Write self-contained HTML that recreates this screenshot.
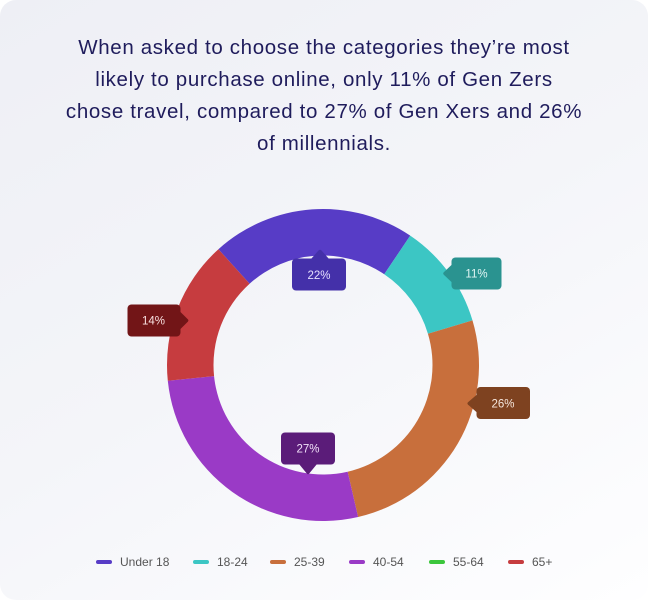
<!DOCTYPE html>
<html><head><meta charset="utf-8"><style>
html,body{margin:0;padding:0;background:#ffffff;}
body{width:648px;height:600px;position:relative;overflow:hidden;font-family:"Liberation Sans",sans-serif;}
.card{position:absolute;left:0;top:0;width:648px;height:600px;border-radius:16px;background:linear-gradient(150deg,#eeeff5 0%,#f4f5f9 50%,#fefeff 100%);}
.t{position:absolute;left:0;width:648px;text-align:center;color:#1f1c5c;font-size:20.5px;letter-spacing:0.65px;line-height:32px;white-space:nowrap;}
.lg{position:absolute;top:555px;font-size:12px;color:#555;line-height:14px;white-space:nowrap;}
.sw{position:absolute;top:560px;width:16px;height:4px;border-radius:2px;}
</style></head><body>
<div class="card"></div>
<div class="t" style="top:32px">When asked to choose the categories they’re most</div>
<div class="t" style="top:64px">likely to purchase online, only 11% of Gen Zers</div>
<div class="t" style="top:96px">chose travel, compared to 27% of Gen Xers and 26%</div>
<div class="t" style="top:128px">of millennials.</div>

<svg width="648" height="600" style="position:absolute;left:0;top:0" xmlns="http://www.w3.org/2000/svg">
<path d="M218.42,249.25 A156,156 0 0 1 410.24,235.68 L384.23,274.22 A109.5,109.5 0 0 0 249.59,283.75 Z" fill="#573cc6"/>
<path d="M410.24,235.68 A156,156 0 0 1 472.49,320.43 L427.93,333.72 A109.5,109.5 0 0 0 384.23,274.22 Z" fill="#3cc6c4"/>
<path d="M472.49,320.43 A156,156 0 0 1 358.10,517.01 L347.64,471.70 A109.5,109.5 0 0 0 427.93,333.72 Z" fill="#c86f3c"/>
<path d="M358.10,517.01 A156,156 0 0 1 167.80,380.77 L214.06,376.07 A109.5,109.5 0 0 0 347.64,471.70 Z" fill="#9a3ac6"/>
<path d="M167.80,380.77 A156,156 0 0 1 218.42,249.25 L249.59,283.75 A109.5,109.5 0 0 0 214.06,376.07 Z" fill="#c63c3f"/>

<!-- 22% -->
<g>
<rect x="292" y="258.5" width="54" height="32" rx="4" fill="#4430a9"/>
<path d="M311,259 L318.5,250.5 Q320,249 321.5,250.5 L329,259 Z" fill="#4430a9"/>
<text x="319" y="279" text-anchor="middle" font-family="Liberation Sans, sans-serif" font-size="11.5" fill="#e6e0ff">22%</text>
</g>
<!-- 11% -->
<g>
<rect x="451.5" y="257.5" width="50" height="32" rx="4" fill="#2a9390"/>
<path d="M452,264.5 L443.8,272.3 Q442.6,273.5 443.8,274.7 L452,282.5 Z" fill="#2a9390"/>
<text x="476.5" y="277.5" text-anchor="middle" font-family="Liberation Sans, sans-serif" font-size="11.5" fill="#e0f5f4">11%</text>
</g>
<!-- 26% -->
<g>
<rect x="476.5" y="387" width="53.5" height="32" rx="4" fill="#7e4220"/>
<path d="M477,394.5 L468,402.2 Q466.8,403.4 468,404.6 L477,412.5 Z" fill="#7e4220"/>
<text x="503" y="407.5" text-anchor="middle" font-family="Liberation Sans, sans-serif" font-size="11.5" fill="#f5e6dc">26%</text>
</g>
<!-- 27% -->
<g>
<rect x="281" y="432.5" width="54" height="32" rx="4" fill="#5b1c79"/>
<path d="M299,464 L306.8,473.5 Q308,475 309.2,473.5 L317,464 Z" fill="#5b1c79"/>
<text x="308" y="452.5" text-anchor="middle" font-family="Liberation Sans, sans-serif" font-size="11.5" fill="#f0e0f8">27%</text>
</g>
<!-- 14% -->
<g>
<rect x="127.5" y="304.5" width="53" height="32" rx="4" fill="#721517"/>
<path d="M180,311.5 L187.8,319.3 Q189,320.5 187.8,321.7 L180,329.5 Z" fill="#721517"/>
<text x="153.5" y="324.5" text-anchor="middle" font-family="Liberation Sans, sans-serif" font-size="11.5" fill="#f8e0e0">14%</text>
</g>
</svg>

<div class="sw" style="left:96px;background:#573cc6"></div><div class="lg" style="left:120px">Under 18</div>
<div class="sw" style="left:193px;background:#3cc6c4"></div><div class="lg" style="left:217px">18-24</div>
<div class="sw" style="left:270px;background:#c86f3c"></div><div class="lg" style="left:294px">25-39</div>
<div class="sw" style="left:349px;background:#9a3ac6"></div><div class="lg" style="left:373px">40-54</div>
<div class="sw" style="left:429px;background:#3cc63c"></div><div class="lg" style="left:453px">55-64</div>
<div class="sw" style="left:508px;background:#c63c3f"></div><div class="lg" style="left:532px">65+</div>
</body></html>
